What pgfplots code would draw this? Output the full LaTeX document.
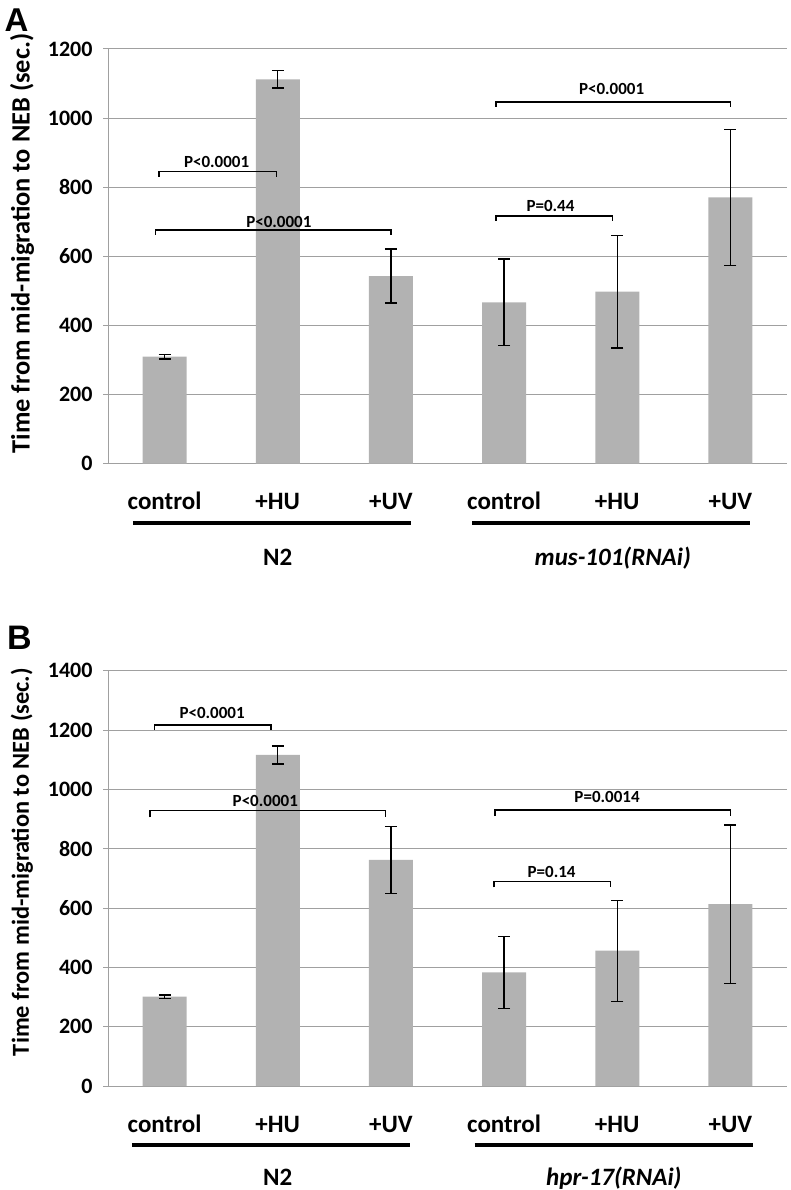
\documentclass[border=0pt]{standalone}
\usepackage{pgfplots}
\pgfplotsset{compat=1.18}
\usepackage{fontspec}
\setmainfont{Carlito}
\newfontfamily\arialfont{Liberation Sans}
\definecolor{barG}{RGB}{178,178,178}
\definecolor{gridG}{RGB}{160,160,160}
\newcommand{\tickfont}{\fontsize{22}{24}\selectfont\bfseries}
\newcommand{\catfont}{\fontsize{25}{28}\selectfont\bfseries}
\newcommand{\pfont}{\fontsize{17}{20}\selectfont\bfseries}

\pgfplotsset{
 panel/.style={
  scale only axis, width=679pt,
  xmin=-0.5, xmax=5.5, ymin=0,
  axis x line=bottom, axis y line=left,
  axis line style={gridG, line width=1pt, -},
  ymajorgrids, grid style={gridG, line width=1pt},
  xtick={0,...,5}, xticklabels={control,+HU,+UV,control,+HU,+UV},
  x tick style={draw=none},
  y tick style={gridG, line width=1pt},
  tick align=outside, major tick length=5pt,
  xticklabel style={font=\catfont, anchor=base, yshift=-41pt},
  yticklabel style={font=\tickfont, xshift=-7pt},
  /pgf/number format/assume math mode=true,
  /pgf/number format/1000 sep={},
  clip=false,
 },
 bars/.style={
  ybar, bar width=44pt, bar shift=0pt, fill=barG, draw=none,
  error bars/.cd, y dir=both, y explicit,
  error bar style={black, line width=1.3pt},
  error mark options={black, rotate=90, mark size=6pt, line width=1.3pt},
 }
}

\begin{document}
\begin{tikzpicture}
\useasboundingbox (0,0) rectangle (790pt,-1190pt);

% ---------------- Panel A ----------------
\node[font=\arialfont\fontsize{33}{35}\selectfont\bfseries] at (16.5pt,-20pt) {A};
\node[font=\fontsize{26.4}{28}\selectfont\bfseries, rotate=90] at (22pt,-243.5pt) {Time from mid-migration to NEB (sec.)};
\begin{axis}[panel, at={(108pt,-463.7pt)}, anchor=south west,
  height=414.7pt, ymax=1200, ytick={0,200,...,1200}]
\addplot[bars] coordinates {
 (0,310) +- (0,7)
 (1,1112) +- (0,25)
 (2,543) +- (0,78)
 (3,467) +- (0,125)
 (4,498) +- (0,163)
 (5,771) +- (0,197)
};
% brackets
\draw[line width=1.5pt] (axis cs:-0.05,831) -- (axis cs:-0.05,845) -- (axis cs:0.99,845) -- (axis cs:0.99,831);
\node[font=\pfont] at (axis cs:0.46,874) {P<0.0001};
\draw[line width=1.5pt] (axis cs:-0.08,662) -- (axis cs:-0.08,676) -- (axis cs:2.0,676) -- (axis cs:2.0,662);
\node[font=\pfont] at (axis cs:1.01,700) {P<0.0001};
\draw[line width=1.5pt] (axis cs:2.93,703) -- (axis cs:2.93,717) -- (axis cs:3.96,717) -- (axis cs:3.96,703);
\node[font=\pfont] at (axis cs:3.41,745) {P=0.44};
\draw[line width=1.5pt] (axis cs:2.93,1033) -- (axis cs:2.93,1047) -- (axis cs:5.0,1047) -- (axis cs:5.0,1033);
\node[font=\pfont] at (axis cs:3.95,1083) {P<0.0001};
% group lines
\draw[line width=4pt] (axis cs:-0.28,-172) -- (axis cs:2.18,-172);
\draw[line width=4pt] (axis cs:2.72,-172) -- (axis cs:5.17,-172);
\node[font=\catfont, anchor=base] at (axis cs:1.0,-296) {N2};
\node[font=\catfont\itshape, anchor=base] at (axis cs:3.96,-296) {mus-101(RNAi)};
\end{axis}

% ---------------- Panel B ----------------
\node[font=\arialfont\fontsize{34}{36}\selectfont\bfseries] at (19.5pt,-637.5pt) {B};
\node[font=\fontsize{24.4}{26}\selectfont\bfseries, rotate=90] at (22pt,-862pt) {Time from mid-migration to NEB (sec.)};
\begin{axis}[panel, at={(108pt,-1086pt)}, anchor=south west,
  height=415.3pt, ymax=1400, ytick={0,200,...,1400}]
\addplot[bars] coordinates {
 (0,301) +- (0,6)
 (1,1116) +- (0,30)
 (2,762) +- (0,112)
 (3,383) +- (0,122)
 (4,456) +- (0,170)
 (5,613) +- (0,267)
};
\draw[line width=1.5pt] (axis cs:-0.09,1200) -- (axis cs:-0.09,1217) -- (axis cs:0.94,1217) -- (axis cs:0.94,1200);
\node[font=\pfont] at (axis cs:0.42,1256) {P<0.0001};
\draw[line width=1.5pt] (axis cs:-0.13,906) -- (axis cs:-0.13,928) -- (axis cs:1.95,928) -- (axis cs:1.95,906);
\node[font=\pfont] at (axis cs:0.89,962) {P<0.0001};
\draw[line width=1.5pt] (axis cs:2.92,910) -- (axis cs:2.92,930) -- (axis cs:5.0,930) -- (axis cs:5.0,910);
\node[font=\pfont] at (axis cs:3.91,973) {P=0.0014};
\draw[line width=1.5pt] (axis cs:2.91,670) -- (axis cs:2.91,689) -- (axis cs:3.94,689) -- (axis cs:3.94,670);
\node[font=\pfont] at (axis cs:3.42,722) {P=0.14};
\draw[line width=4pt] (axis cs:-0.29,-199) -- (axis cs:2.17,-199);
\draw[line width=4pt] (axis cs:2.74,-199) -- (axis cs:5.2,-199);
\node[font=\catfont, anchor=base] at (axis cs:1.0,-337) {N2};
\node[font=\catfont\itshape, anchor=base] at (axis cs:3.97,-337) {hpr-17(RNAi)};
\end{axis}
\end{tikzpicture}
\end{document}
